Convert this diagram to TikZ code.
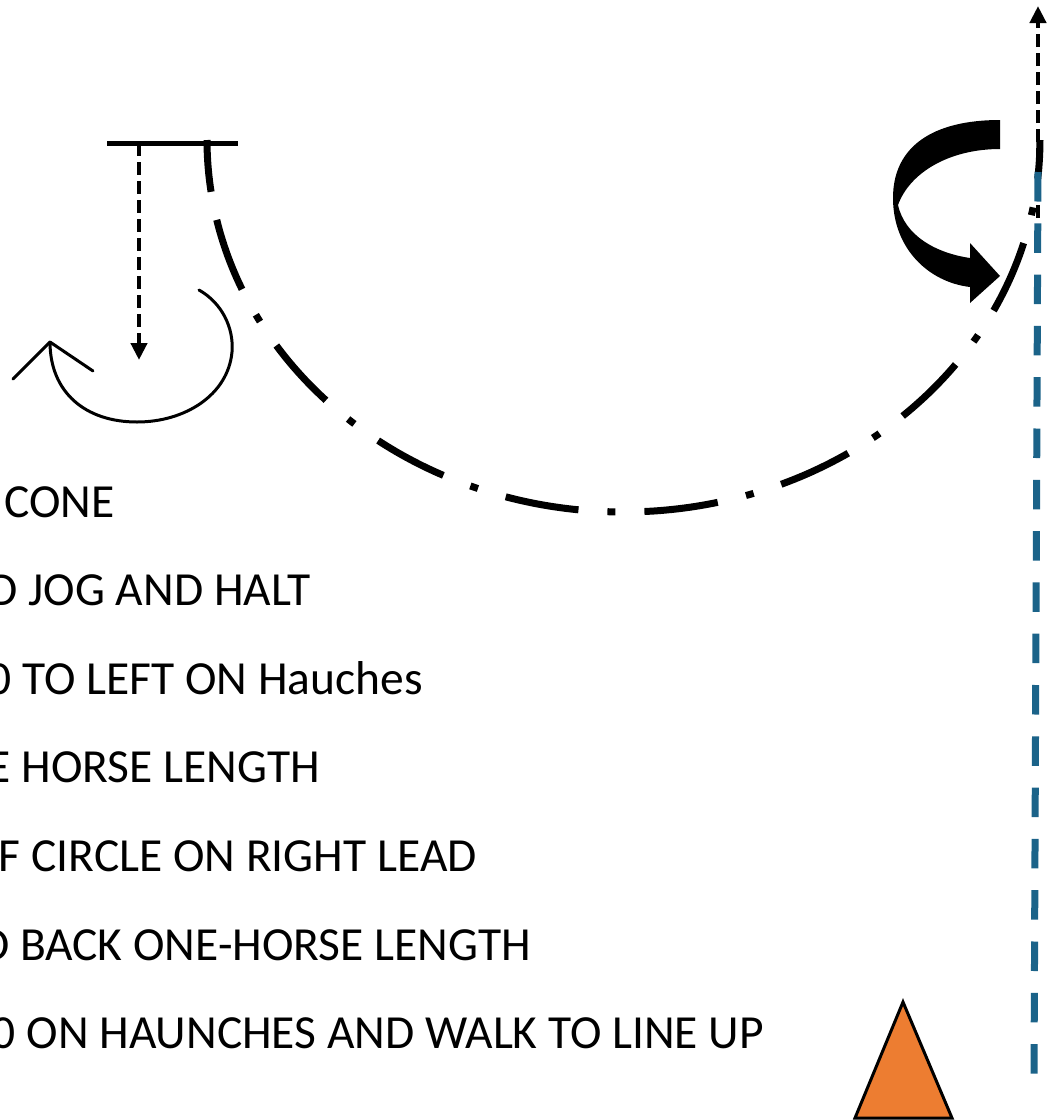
\documentclass[tikz,border=0pt]{standalone}
\usepackage{fontspec}
\setmainfont{Carlito}
\usetikzlibrary{arrows.meta}
\definecolor{lineblue}{RGB}{27,99,137}
\definecolor{coneorange}{RGB}{237,125,49}
\begin{document}
\begin{tikzpicture}[x=1pt,y=-1pt,
  txt/.style={anchor=base east, inner sep=0pt, font=\fontsize{47.5}{57}\selectfont},
  dasharrow/.style={line width=4.2, dash pattern=on 13 off 6, -{Triangle[length=17,width=16]}},
  pathline/.style={line width=7, line cap=butt}]
\useasboundingbox (0,0) rectangle (1057,1120);
\clip (0,0) rectangle (1057,1120);

% coordinates
\coordinate (barL) at (107,143);
\coordinate (barR) at (238,143);
\coordinate (backS) at (139,143);
\coordinate (backE) at (139,360);
\coordinate (upS) at (1038,218);
\coordinate (upE) at (1038,6);
\coordinate (blueS) at (1038,172);
\coordinate (blueE) at (1034,1075);
\coordinate (coneTop) at (903,1002);
\coordinate (coneL) at (855,1118);
\coordinate (coneR) at (952,1118);

% start bar
\draw[line width=5] (barL) -- (barR);
% back-up dashed arrow
\draw[dasharrow] (backS) -- (backE);

% small turn arrow (left)
\draw[line width=3, line cap=round, line join=round]
  (199,290) .. controls (222,303) and (234,328) .. (232,352)
  .. controls (228,395) and (185,422) .. (137,422)
  .. controls (85,422) and (50,392) .. (50,342);
\draw[line width=3, line cap=round, line join=round] (13,379) -- (50,342) -- (93,371);

% half circle (dash-dot)
\draw[pathline, dash pattern=on 52 off 100] plot[domain=0:12.4, samples=20] ({623.5-416.5*cos(\x)}, {140+372*sin(\x)});
\draw[pathline, dash pattern=on 74 off 29 on 8 off 29]
  plot[domain=12.4:180, samples=200] ({623.5-416.5*cos(\x)}, {140+372*sin(\x)});

% curved thick arrow (right)
\fill (1000,120) .. controls (932,120) and (893,147) .. (893,198)
  .. controls (893,248) and (928,282) .. (970,287)
  -- (970,303) -- (1000,276) -- (970,243) -- (970,258)
  .. controls (936,253) and (905,236) .. (898,205)
  .. controls (910,172) and (950,149) .. (1000,149) -- cycle;

% upward dashed arrow
\draw[dasharrow] (upS) -- (upE);

% blue dashed line
\draw[lineblue, line width=7, dash pattern=on 29.5 off 21.8] (blueS) -- (blueE);

% cone
\draw[fill=coneorange, line width=3, line join=miter] (coneTop) -- (coneL) -- (coneR) -- cycle;

% texts
\node[txt] (t1) at (115,517) {CONE};
\node[txt] (t2) at (311,605.6) {D JOG AND HALT};
\node[txt] (t3) at (423,694.2) {0 TO LEFT ON Hauches};
\node[txt] (t4) at (320,782.8) {E HORSE LENGTH};
\node[txt] (t5) at (477,871.4) {F CIRCLE ON RIGHT LEAD};
\node[txt] (t6) at (531,960) {D BACK ONE-HORSE LENGTH};
\node[txt] (t7) at (764,1048.6) {0 ON HAUNCHES AND WALK TO LINE UP};
\end{tikzpicture}
\end{document}
